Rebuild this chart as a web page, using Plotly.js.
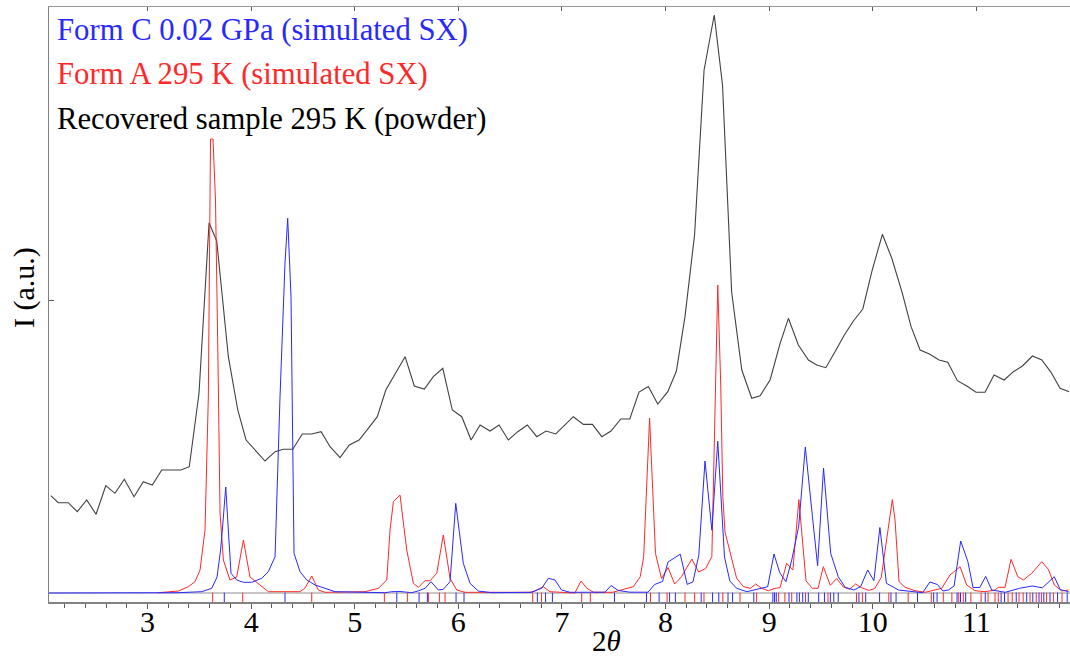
<!DOCTYPE html>
<html>
<head>
<meta charset="utf-8">
<script src="https://cdn.plot.ly/plotly-3.0.1.min.js"></script>
<style>html,body{margin:0;padding:0;background:#fff;}#chart{width:1070px;height:659px;}</style>
</head>
<body>
<div id="chart"></div>
<script>
// ---- Recovered sample 295 K (powder) ----
const powderX = [2.066,2.139,2.235,2.322,2.413,2.503,2.597,2.686,2.776,2.870,2.959,3.046,3.137,3.323,3.403,3.497,3.594,3.668,3.780,3.871,3.951,4.134,4.231,4.311,4.402,4.494,4.585,4.675,4.762,4.858,4.948,5.042,5.131,5.218,5.300,5.486,5.575,5.672,5.759,5.850,5.942,6.033,6.123,6.210,6.306,6.393,6.483,6.574,6.666,6.757,6.847,6.940,7.110,7.207,7.294,7.385,7.474,7.568,7.655,7.744,7.834,7.925,8.022,8.105,8.188,8.280,8.372,8.470,8.550,8.638,8.736,8.832,8.913,9.009,9.106,9.186,9.282,9.379,9.460,9.547,9.636,9.726,9.813,9.904,9.991,10.093,10.184,10.286,10.370,10.457,10.547,10.640,10.724,10.817,10.908,10.997,11.084,11.171,11.268,11.358,11.445,11.541,11.632,11.721,11.808,11.896];
const powderY = [97.3,90.3,90.3,81.3,93,78.7,107.3,99.7,113.7,96.3,111.3,108,123,123,126.3,199.7,370.3,352,236.3,183,153,132,141.3,143.7,143.7,159,159,161.3,146.3,135.3,148,153,164.7,176.3,203,236.3,207,204,216.3,224.7,183,176.3,153,168,162,168,153,161.3,168,156.3,162,159,176.3,168.6,168.6,156.3,162,174,174,201,206.4,189,201.4,222,276.6,358,523,578,508,301,223,194.7,197.3,213,249.7,274.7,248,233,228,225.3,241.3,258,272,284,321.3,358.7,334.7,299.7,266.3,243,239,233,230.7,212.3,207,200.7,200.7,218,213,221.3,227,237,233,220.7,204.7,201.3];

// ---- Form A 295 K (simulated SX) ----
const formAX = [3.104,3.297,3.394,3.458,3.507,3.555,3.587,3.608,3.632,3.656,3.680,3.700,3.732,3.796,3.861,3.925,3.989,4.070,4.166,4.472,4.520,4.585,4.649,4.713,5.099,5.228,5.309,5.341,5.373,5.437,5.502,5.566,5.614,5.679,5.727,5.792,5.855,5.920,5.985,6.065,6.692,6.740,6.820,6.885,6.943,7.125,7.184,7.240,7.307,7.489,7.689,7.756,7.789,7.846,7.903,7.961,8.024,8.088,8.154,8.254,8.319,8.387,8.447,8.504,8.533,8.553,8.574,8.623,8.686,8.753,8.820,8.870,8.927,8.992,9.057,9.105,9.169,9.229,9.287,9.356,9.417,9.472,9.523,9.590,9.652,9.716,9.777,9.834,9.889,9.962,10.019,10.082,10.132,10.189,10.215,10.254,10.312,10.408,10.505,10.601,10.666,10.746,10.843,10.907,10.987,11.084,11.181,11.212,11.277,11.335,11.400,11.454,11.535,11.631,11.695,11.753,11.824,11.888];
const formAY = [0.3,2,6.3,11.3,23,63,196,454,454,393,233,80,33,13,16,53,16,9.7,1.3,1.3,5,17,3,0.7,1.3,4.7,13,63,91.3,98,43,9.7,5.7,12.3,12.3,19.7,58,14.7,3,0.7,0.7,2,6.3,1.3,1,0,12,4.7,0.7,0.7,6.3,16.3,36.3,175,39.5,14.5,25.5,9,16.3,34,21,24.5,36.5,308,207,96.3,61,41,14.7,6.3,4.7,9,4.7,2.3,4.7,5.3,29.7,23,93.4,12,4.7,4.7,26.3,7.7,14.4,6,3.8,9,5.4,2.6,4.4,15.5,49.7,93.4,73,11.3,5.7,2.3,0.7,3,4.7,18,26.3,8,2.3,1.3,3,5.7,5.7,33.7,16.3,13,19.7,31.3,23.7,8,2,3];

// ---- Form C 0.02 GPa (simulated SX) ----
const formCX = [2.049,3.294,3.523,3.620,3.671,3.705,3.722,3.755,3.780,3.806,3.861,3.925,4.006,4.102,4.166,4.231,4.279,4.327,4.353,4.385,4.414,4.472,4.537,4.617,4.713,4.810,5.292,5.357,5.437,5.550,5.611,5.679,5.736,5.807,5.855,5.920,5.975,6.048,6.113,6.193,6.322,6.708,6.759,6.805,6.869,6.933,6.996,7.078,7.416,7.474,7.542,7.657,7.831,7.894,7.971,8.024,8.142,8.209,8.265,8.321,8.381,8.447,8.504,8.569,8.621,8.686,8.786,8.886,8.986,9.047,9.102,9.162,9.218,9.285,9.349,9.418,9.468,9.525,9.594,9.667,9.734,9.817,9.883,9.951,10.011,10.069,10.132,10.249,10.381,10.482,10.551,10.624,10.677,10.730,10.785,10.849,10.918,10.968,11.033,11.090,11.148,11.279,11.417,11.538,11.638,11.752,11.810,11.891];
const formCY = [0,0.3,1.3,4.7,16,43,63,106,63,19.7,13,10.7,10.7,14.7,21.3,36.3,196.3,330,374.7,296.3,39.7,21.3,13,8,4.7,1.3,0.3,1.3,1.5,0.3,2,4.7,11.3,3,3.7,11.3,89.7,29.7,9.7,2,0.3,0.7,3,4.7,14.7,13,3,0.7,0.8,7.5,2.5,0.8,0.8,8.5,11.5,31,38.8,8.6,11.2,37.7,132,62.8,151.8,36,12,4.7,1.3,4,6.3,39,20.3,11.3,33,66.3,146,76.3,27.2,125,39.7,16.3,5.7,3,6.3,23,12.3,65.5,9.7,3,1.3,0.3,11,8.5,2,3,7,52,31.4,5.5,5.5,16.6,3,0.7,4.7,7,5.2,16.3,3.4,1.3];

// ---- reflection positions ----
const reflA = [3.629,3.919,4.585,5.286,5.508,5.711,5.817,5.872,6.718,6.802,7.191,7.274,7.855,8.015,8.188,8.281,8.371,8.553,8.719,8.879,9.092,9.152,9.218,9.351,9.568,9.843,9.900,10.155,10.342,10.565,10.681,10.764,10.830,10.874,10.947,11.046,11.113,11.180,11.212,11.306,11.346,11.412,11.452,11.518,11.578,11.628,11.678,11.744,11.827];
const reflC = [3.741,4.327,5.406,5.621,5.701,5.978,6.055,6.763,6.842,6.908,7.507,7.816,7.938,8.039,8.095,8.344,8.454,8.514,8.603,8.647,8.852,9.036,9.052,9.069,9.192,9.268,9.292,9.324,9.378,9.478,9.534,9.591,9.624,9.667,9.867,9.932,10.066,10.176,10.225,10.432,10.588,10.621,10.814,10.847,10.897,11.086,11.239,11.272,11.385,11.486,11.545,11.605,11.651,11.711,11.784,11.877];
const reflRowY = -4.5;

const legendLabels = ["Form C 0.02 GPa (simulated SX)", "Form A 295 K (simulated SX)", "Recovered sample 295 K (powder)"];
const xTickVals = [3,4,5,6,7,8,9,10,11];
const xTitle = '2<i>θ</i>';
const yTitle = 'I (a.u.)';

const RED = 'rgb(255,40,40)', BLUE = 'rgb(40,40,255)', BLACK = 'rgb(65,65,65)';
const FONT = 'Liberation Serif, Times New Roman, serif';

const traces = [
  {x: powderX, y: powderY, type: 'scatter', mode: 'lines', line: {color: BLACK, width: 1.1}, hoverinfo: 'skip', showlegend: false},
  {x: formAX, y: formAY, type: 'scatter', mode: 'lines', line: {color: RED, width: 1}, hoverinfo: 'skip', showlegend: false},
  {x: formCX, y: formCY, type: 'scatter', mode: 'lines', line: {color: BLUE, width: 1}, hoverinfo: 'skip', showlegend: false},
  {x: reflA, y: reflA.map(() => reflRowY), type: 'scatter', mode: 'markers',
   marker: {symbol: 'line-ns', size: 7, line: {color: RED, width: 1}}, hoverinfo: 'skip', showlegend: false},
  {x: reflC, y: reflC.map(() => reflRowY), type: 'scatter', mode: 'markers', xaxis: 'x2',
   marker: {symbol: 'line-ns', size: 7, line: {color: BLUE, width: 1}}, hoverinfo: 'skip', showlegend: false}
];

// plot area in px: left 49, top 7, width 1021, height 595
const legendY = [30, 74, 119];
const legendColors = [BLUE, RED, 'black'];
const annotations = legendLabels.map((t, i) => ({
  text: t, xref: 'paper', yref: 'paper', x: 0.006, y: 1 - (legendY[i] - 7) / 595,
  xanchor: 'left', yanchor: 'middle', showarrow: false,
  font: {family: FONT, size: 30.7, color: legendColors[i]}
}));
// axis titles (placed where the reference draws them)
annotations.push({
  text: xTitle, xref: 'paper', yref: 'paper', x: (606 - 49) / 1021, y: (602 - 641) / 595,
  xanchor: 'center', yanchor: 'middle', showarrow: false, borderpad: 0,
  font: {family: FONT, size: 29, color: 'black'}
});
annotations.push({
  text: yTitle, xref: 'paper', yref: 'paper', x: (24 - 49) / 1021, y: (602 - 288) / 595,
  xanchor: 'center', yanchor: 'middle', textangle: -90, showarrow: false,
  font: {family: FONT, size: 30, color: 'black'}
});

const layout = {
  width: 1070, height: 659,
  margin: {l: 49, r: 0, t: 7, b: 57, pad: 0},
  paper_bgcolor: 'white', plot_bgcolor: 'white',
  showlegend: false,
  font: {family: FONT, size: 30, color: 'black'},
  xaxis: {
    range: [2.049, 11.904], showgrid: false, zeroline: false,
    showline: true, linecolor: 'rgb(130,130,130)', linewidth: 1.5,
    tickmode: 'array', tickvals: xTickVals, ticktext: xTickVals.map(String),
    ticks: 'outside', ticklen: 5, tickcolor: 'rgb(90,90,90)', tickwidth: 1,
    ticklabelstandoff: -13,
    minor: {dtick: 0.2, tick0: 0, ticks: 'outside', ticklen: 4, tickcolor: 'rgb(90,90,90)', showgrid: false},
    tickfont: {family: FONT, size: 30, color: 'black'}
  },
  xaxis2: {
    overlaying: 'x', side: 'top', range: [2.049, 11.904], showgrid: false, zeroline: false,
    showline: true, linecolor: 'rgb(150,150,150)', linewidth: 1.5,
    tickmode: 'array', tickvals: xTickVals, ticks: 'inside', ticklen: 4, tickcolor: 'rgb(90,90,90)',
    showticklabels: false
  },
  yaxis: {
    range: [-9, 586], showgrid: false,
    zeroline: true, zerolinecolor: 'rgb(200,200,200)', zerolinewidth: 1.5,
    showline: true, linecolor: 'rgb(130,130,130)', linewidth: 1.5,
    tickmode: 'array', tickvals: [293], ticks: 'inside', ticklen: 5, tickcolor: 'rgb(90,90,90)',
    showticklabels: false
  },
  annotations: annotations
};

Plotly.newPlot('chart', traces, layout, {staticPlot: true, displayModeBar: false});
</script>
</body>
</html>
